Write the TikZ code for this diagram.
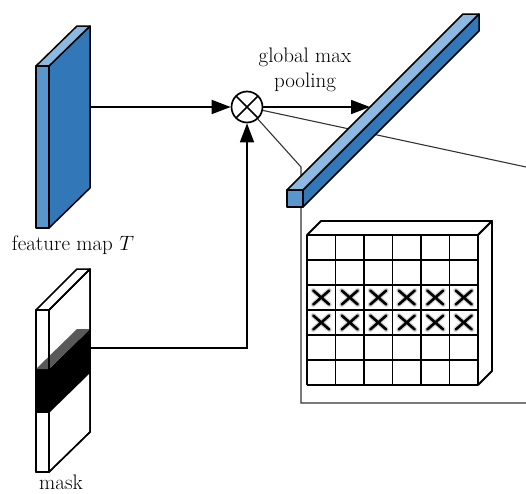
\documentclass[tikz,border=0pt]{standalone}
\usepackage{fontspec}
\usetikzlibrary{arrows.meta}
\definecolor{blueTop}{HTML}{8CB9E2}
\definecolor{blueFront}{HTML}{5A96CE}
\definecolor{blueSide}{HTML}{3277B8}
\tikzset{
  face/.style={draw=black,line width=1.5pt,line join=round},
  conn/.style={line width=1.7pt,-{Triangle[length=19pt,width=14pt]}},
  proj/.style={line width=1.1pt,draw=black!80},
  lbl/.style={font=\fontsize{21}{25}\selectfont,align=center},
  gridln/.style={line width=1.8pt},
  cross/.style={line width=2.6pt,line cap=round}
}
\begin{document}
\begin{tikzpicture}[x=1pt,y=-1pt]
    \useasboundingbox (0,0) rectangle (526,493);
    % feature map
    \filldraw[face,fill=blueSide] (49,66) -- (90,26) -- (90,188) -- (49,228) -- cycle;
    \filldraw[face,fill=blueTop] (36,66) -- (77,26) -- (90,26) -- (49,66) -- cycle;
    \filldraw[face,fill=blueFront] (36,66) rectangle (49,228);
    \coordinate (fmap) at (90,107);
    \node[lbl] (fmaplbl) at (73,245) {feature map $T$};
    % mask
    \filldraw[face,fill=white] (49,310) -- (90,269) -- (90,432) -- (49,472) -- cycle;
    \filldraw[face,fill=white] (36,310) -- (77,269) -- (90,269) -- (49,310) -- cycle;
    \filldraw[face,fill=white] (36,310) rectangle (49,472);
    \fill[black] (49,369) -- (90,329) -- (90,373) -- (49,413) -- cycle;
    \fill[black] (36,369) rectangle (49,413);
    \fill[black!65] (36,369) -- (77,329) -- (90,329) -- (49,369) -- cycle;
    \draw[face] (49,310) -- (90,269) -- (90,432) -- (49,472) -- cycle;
    \draw[face] (36,310) rectangle (49,472);
    \coordinate (mask) at (90,348);
    \node[lbl] (masklbl) at (61,482) {mask};
    % multiplication
    \node[circle,draw,line width=1.7pt,minimum size=31pt,inner sep=0pt,
      path picture={\draw[line width=1.7pt]
        (path picture bounding box.north west) -- (path picture bounding box.south east)
        (path picture bounding box.north east) -- (path picture bounding box.south west);}]
      (mult) at (247,107) {};
    \draw[conn] (fmap) -- (mult);
    \draw[conn] (mask) -| (mult.south);
    % zoom box
    \coordinate (zoomTL) at (301,167);
    \coordinate (zoomTR) at (526,167);
    \coordinate (zoomBL) at (301,403);
    \coordinate (zoomBR) at (526,403);
    \draw[proj] (mult) -- (zoomTL) -- (zoomBL) -- (zoomBR);
    \draw[proj] (mult) -- (zoomTR);
    % pooled vector
    \coordinate (vec) at (370,107);
    \draw[conn] (mult) -- (vec);
    \node[lbl] (pool) at (305,70) {global max\\pooling};
    \filldraw[face,fill=blueSide] (303,190) -- (479,14) -- (479,31) -- (303,207) -- cycle;
    \filldraw[face,fill=blueTop] (287,190) -- (463,14) -- (479,14) -- (303,190) -- cycle;
    \filldraw[face,fill=blueFront] (287,190) rectangle (303,207);
    % grid block
    \filldraw[gridln,fill=white,line join=round] (307,235) -- (321,221) -- (492,221) -- (478,235) -- cycle;
    \filldraw[gridln,fill=white,line join=round] (478,235) -- (492,221) -- (492,371) -- (478,385) -- cycle;
    \fill[white] (307,235) rectangle (478,385);
    \foreach \i in {0,...,5}
      \foreach \j in {2,3} {
        \draw[cross,gray!35,line width=5pt] ({321.25+28.5*\i-8},{247.5+25*\j-7}) -- ({321.25+28.5*\i+8},{247.5+25*\j+7})
          ({321.25+28.5*\i+8},{247.5+25*\j-7}) -- ({321.25+28.5*\i-8},{247.5+25*\j+7});
        \draw[cross] ({321.25+28.5*\i-8},{247.5+25*\j-7}) -- ({321.25+28.5*\i+8},{247.5+25*\j+7})
          ({321.25+28.5*\i+8},{247.5+25*\j-7}) -- ({321.25+28.5*\i-8},{247.5+25*\j+7});
      }
    \foreach \i in {0,...,6}
      \draw[gridln] ({307+28.5*\i},235) -- ({307+28.5*\i},385);
    \foreach \j in {0,...,6}
      \draw[gridln] (307,{235+25*\j}) -- (478,{235+25*\j});
\end{tikzpicture}
\end{document}
